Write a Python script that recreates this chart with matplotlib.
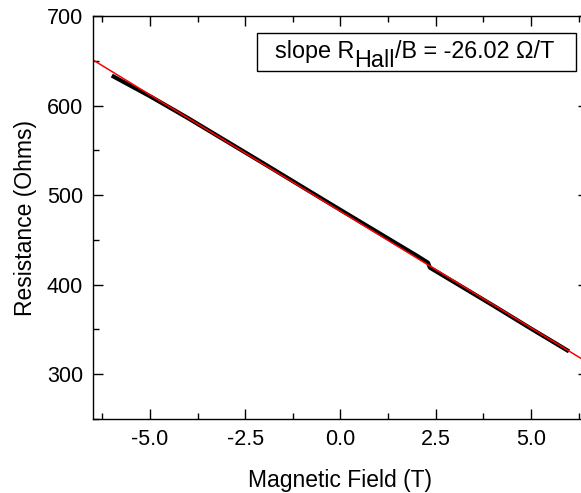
import numpy as np
import matplotlib.pyplot as plt
from matplotlib.ticker import MultipleLocator
from matplotlib.patches import Rectangle
from matplotlib.transforms import IdentityTransform

plt.rcParams['font.family'] = ['Liberation Sans', 'DejaVu Sans']

# Hall resistance sweep
field = [-6.0, -5.5, -5.0, -4.5, -4.0, -3.0, -2.0, -1.0, 0.0, 1.0, 2.0, 2.3,
         2.35, 3.0, 4.0, 5.0, 6.0]
resistance = [633.5, 622.0, 610.5, 598.3, 586.0, 560.5, 535.0, 509.2, 483.5,
              458.0, 432.5, 424.5, 419.0, 402.5, 377.0, 351.0, 325.5]

# linear fit
slope = -26.02
intercept = 482.0

fig = plt.figure(figsize=(5.81, 4.93), dpi=100)
ax = fig.add_axes([0.1596, 0.1501, 0.8525, 0.8174])

ax.plot(field, resistance, color='black', lw=3.0, solid_capstyle='butt')
bfit = np.array([-6.5, 6.5])
ax.plot(bfit, intercept + slope * bfit, color='red', lw=1.1)

ax.set_xlim(-6.5, 6.5)
ax.set_ylim(250, 700)
ax.xaxis.set_major_locator(MultipleLocator(2.5))
ax.xaxis.set_minor_locator(MultipleLocator(1.25))
ax.yaxis.set_major_locator(MultipleLocator(100))
ax.yaxis.set_minor_locator(MultipleLocator(50))
ax.xaxis.set_major_formatter(plt.FormatStrFormatter('%.1f'))
ax.tick_params(which='both', direction='in', top=True, right=True,
               labelsize=15.5, width=1.0)
ax.tick_params(which='major', length=7, pad=7)
ax.tick_params(which='minor', length=4)
for s in ax.spines.values():
    s.set_linewidth(1.0)

ax.set_xlabel('Magnetic Field (T)', fontsize=16.5, labelpad=14)
ax.set_ylabel('Resistance (Ohms)', fontsize=16.5, labelpad=7)

# slope label: box plus text with a full-size, lowered "Hall"
ax.add_patch(Rectangle((0.331, 0.864), 0.645, 0.093, transform=ax.transAxes,
                       fc='white', ec='black', lw=1.0, zorder=5))
renderer = fig.canvas.get_renderer()
x0, y0 = ax.transAxes.transform((0.368, 0.895))
parts = [('slope R', 0), ('Hall', -9), ('/B = -26.02 \u03a9/T', 0)]
for txt, dy in parts:
    t = ax.text(x0, y0 + dy, txt, transform=IdentityTransform(), fontsize=16.8,
                va='baseline', ha='left', zorder=6)
    x0 = t.get_window_extent(renderer).x1

fig.savefig('out.png', dpi=100)
